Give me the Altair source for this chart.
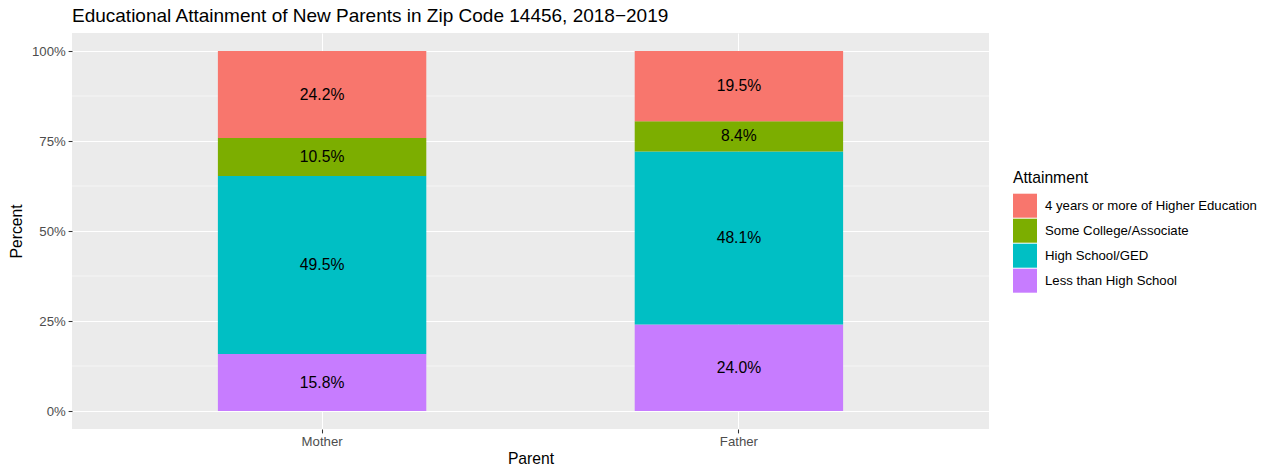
import altair as alt
import pandas as pd

parents = ["Mother", "Father"]
levels = ["Less than High School", "High School/GED", "Some College/Associate",
          "4 years or more of Higher Education"]
mother_pct = [15.8, 49.5, 10.5, 24.2]
father_pct = [24.0, 48.1, 8.4, 19.5]
legend_order = ["4 years or more of Higher Education", "Some College/Associate",
                "High School/GED", "Less than High School"]
colors = ["#F8766D", "#7CAE00", "#00BFC4", "#C77CFF"]
major_ticks = [0, 25, 50, 75, 100]
minor_ticks = [12.5, 37.5, 62.5, 87.5]

rows = []
for p, vals in zip(parents, [mother_pct, father_pct]):
    for i, (lvl, v) in enumerate(zip(levels, vals)):
        rows.append({"Parent": p, "Attainment": lvl, "Percent": v, "ord": i,
                     "label": f"{v:.1f}%"})
df = pd.DataFrame(rows)
minor_df = pd.DataFrame({"m": minor_ticks})

FONT = "Liberation Sans"
yscale = alt.Scale(domain=[-5, 105], nice=False, zero=False)
xscale = alt.Scale(domain=parents, paddingInner=0.5, paddingOuter=0.35)

minor = alt.Chart(minor_df).mark_rule(color="white", strokeWidth=0.55).encode(
    y=alt.Y("m:Q", scale=yscale)
)

base = alt.Chart(df).transform_stack(
    stack="Percent", groupby=["Parent"], sort=[alt.SortField("ord", "ascending")],
    as_=["y0", "y1"]
).transform_calculate(mid="(datum.y0 + datum.y1) / 2")

bars = base.mark_bar(strokeWidth=0).encode(
    x=alt.X("Parent:N", scale=xscale, sort=parents,
            axis=alt.Axis(title="Parent", labelAngle=0, bandPosition=0.5,
                          grid=True, gridColor="white", gridWidth=1.07)),
    y=alt.Y("y0:Q", scale=yscale,
            axis=alt.Axis(title="Percent", values=major_ticks,
                          labelExpr="datum.value + '%'", grid=True,
                          gridColor="white", gridWidth=1.07)),
    y2="y1:Q",
    color=alt.Color("Attainment:N",
                    scale=alt.Scale(domain=legend_order, range=colors),
                    legend=alt.Legend(title="Attainment", orient="none",
                                      legendX=941, legendY=138)),
)

texts = base.mark_text(font=FONT, fontSize=15.7, color="black",
                       align="center", baseline="middle").encode(
    x=alt.X("Parent:N", scale=xscale, sort=parents),
    y=alt.Y("mid:Q", scale=yscale),
    text="label:N",
)

chart = alt.layer(minor, bars, texts).properties(
    width=917, height=396,
    autosize=alt.AutoSizeParams(type="none"),
    padding={"left": 64, "top": 25, "right": 275, "bottom": 40},
    title=alt.TitleParams(
        "Educational Attainment of New Parents in Zip Code 14456, 2018\u22122019",
        anchor="start", frame="group", font=FONT, fontSize=19,
        fontWeight="normal", color="black", baseline="alphabetic", offset=0,
        dy=8),
).configure_view(fill="#EBEBEB", stroke=None).configure_axis(
    domain=False, labelFont=FONT, labelFontSize=13.2, labelColor="#4D4D4D",
    tickColor="#333333", tickSize=3.9, tickWidth=1.07, labelPadding=2.9,
    titleFont=FONT, titleFontSize=15.7, titleFontWeight="normal",
    titleColor="black",
).configure_axisY(titlePadding=7).configure_axisX(titlePadding=3).configure_legend(
    symbolType="square", symbolSize=576, symbolStrokeWidth=0, symbolOpacity=1,
    labelFont=FONT, labelFontSize=13.2, labelColor="black", labelOffset=8,
    labelLimit=0,
    titleFont=FONT, titleFontSize=15.7, titleFontWeight="normal",
    titleColor="black", titlePadding=7, rowPadding=1,
)

chart.save("out.html", embed_options={"renderer": "svg", "actions": False})
